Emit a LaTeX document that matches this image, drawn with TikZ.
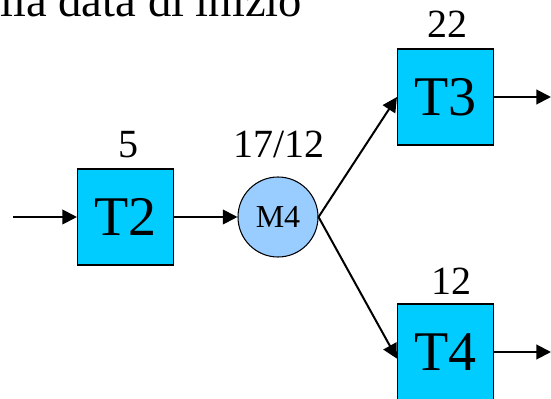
\documentclass[tikz,border=0pt]{standalone}
\usepackage{fontspec}
\setmainfont{Liberation Serif}
\usetikzlibrary{arrows.meta}
\definecolor{taskfill}{RGB}{0,204,255}
\definecolor{msfill}{RGB}{153,204,255}
\begin{document}
\begin{tikzpicture}[x=0.75pt,y=0.75pt,yscale=-1,xscale=1,
  task/.style={draw=black,line width=0.8pt,fill=taskfill,minimum width=72pt,minimum height=72pt,inner sep=0pt,font=\fontsize{42}{44}\selectfont},
  milestone/.style={circle,draw=black,line width=0.8pt,fill=msfill,minimum size=60pt,inner sep=0pt,font=\fontsize{24}{26}\selectfont},
  dur/.style={anchor=base,inner sep=0pt,font=\fontsize{30}{32}\selectfont},
  flow/.style={line width=1.5pt,-{Triangle[length=11pt,width=11pt]}}]
\useasboundingbox (0,0) rectangle (551,399);

% Text Node
\draw (0,17) node [anchor=base west][inner sep=0pt] (head) {\fontsize{35}{37}\selectfont lla data di inizio};

%Shape: Square
\node [task] (T2) at (125.5,217) {T2};
\node [task] (T3) at (445.5,97) {T3};
\node [task] (T4) at (445.5,352) {T4};
%Shape: Circle
\node [milestone] (M4) at (278,217) {M4};

% Text Node
\node [dur] (d2) at (128,158) {5};
\node [dur] (d4) at (279,158) {17/12};
\node [dur] (d3) at (447,38) {22};
\node [dur] (d5) at (451,295) {12};

\coordinate (in) at (13,217);
\coordinate (out3) at (551,97);
\coordinate (out4) at (551,352);

%Straight Lines
\draw [flow] (in) -- (T2.west);
\draw [flow] (T2.east) -- (M4.west);
\draw [flow] (M4.east) -- (T3.west);
\draw [flow] (M4.east) -- ([yshift=5pt]T4.west);
\draw [flow] (T3.east) -- (out3);
\draw [flow] (T4.east) -- (out4);

\end{tikzpicture}
\end{document}
